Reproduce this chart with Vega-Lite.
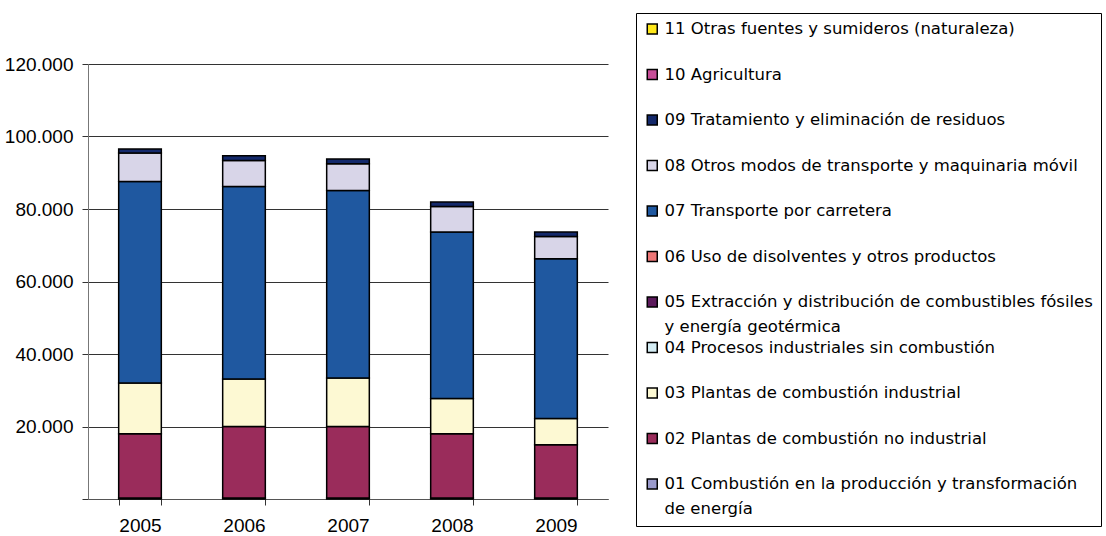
{
  "$schema": "https://vega.github.io/schema/vega-lite/v6.json",
  "width": 520,
  "height": 435,
  "autosize": {"type": "none"},
  "padding": {"left": 88, "top": 64, "right": 498, "bottom": 37},
  "background": "white",
  "config": {
    "font": "Liberation Sans",
    "view": {"stroke": null},
    "legend": {"strokeWidth": 1}
  },
  "data": {
    "values": [
      {"year": "2005", "code": 1, "cat": "01 Combustión en la producción y transformación de energía", "value": 300},
      {"year": "2006", "code": 1, "cat": "01 Combustión en la producción y transformación de energía", "value": 300},
      {"year": "2007", "code": 1, "cat": "01 Combustión en la producción y transformación de energía", "value": 300},
      {"year": "2008", "code": 1, "cat": "01 Combustión en la producción y transformación de energía", "value": 300},
      {"year": "2009", "code": 1, "cat": "01 Combustión en la producción y transformación de energía", "value": 300},
      {"year": "2005", "code": 2, "cat": "02 Plantas de combustión no industrial", "value": 17700},
      {"year": "2006", "code": 2, "cat": "02 Plantas de combustión no industrial", "value": 19700},
      {"year": "2007", "code": 2, "cat": "02 Plantas de combustión no industrial", "value": 19700},
      {"year": "2008", "code": 2, "cat": "02 Plantas de combustión no industrial", "value": 17700},
      {"year": "2009", "code": 2, "cat": "02 Plantas de combustión no industrial", "value": 14700},
      {"year": "2005", "code": 3, "cat": "03 Plantas de combustión industrial", "value": 14000},
      {"year": "2006", "code": 3, "cat": "03 Plantas de combustión industrial", "value": 13100},
      {"year": "2007", "code": 3, "cat": "03 Plantas de combustión industrial", "value": 13400},
      {"year": "2008", "code": 3, "cat": "03 Plantas de combustión industrial", "value": 9700},
      {"year": "2009", "code": 3, "cat": "03 Plantas de combustión industrial", "value": 7240},
      {"year": "2005", "code": 7, "cat": "07 Transporte por carretera", "value": 55600},
      {"year": "2006", "code": 7, "cat": "07 Transporte por carretera", "value": 53140},
      {"year": "2007", "code": 7, "cat": "07 Transporte por carretera", "value": 51730},
      {"year": "2008", "code": 7, "cat": "07 Transporte por carretera", "value": 45950},
      {"year": "2009", "code": 7, "cat": "07 Transporte por carretera", "value": 44050},
      {"year": "2005", "code": 8, "cat": "08 Otros modos de transporte y maquinaria móvil", "value": 7850},
      {"year": "2006", "code": 8, "cat": "08 Otros modos de transporte y maquinaria móvil", "value": 7160},
      {"year": "2007", "code": 8, "cat": "08 Otros modos de transporte y maquinaria móvil", "value": 7370},
      {"year": "2008", "code": 8, "cat": "08 Otros modos de transporte y maquinaria móvil", "value": 7050},
      {"year": "2009", "code": 8, "cat": "08 Otros modos de transporte y maquinaria móvil", "value": 6150},
      {"year": "2005", "code": 9, "cat": "09 Tratamiento y eliminación de residuos", "value": 1100},
      {"year": "2006", "code": 9, "cat": "09 Tratamiento y eliminación de residuos", "value": 1300},
      {"year": "2007", "code": 9, "cat": "09 Tratamiento y eliminación de residuos", "value": 1300},
      {"year": "2008", "code": 9, "cat": "09 Tratamiento y eliminación de residuos", "value": 1200},
      {"year": "2009", "code": 9, "cat": "09 Tratamiento y eliminación de residuos", "value": 1210}
    ]
  },
  "mark": {"type": "bar", "stroke": "#000000", "strokeWidth": 1.5},
  "encoding": {
    "x": {
      "field": "year",
      "type": "ordinal",
      "scale": {"paddingInner": 0.59, "paddingOuter": 0.295},
      "axis": {
        "title": null,
        "labelAngle": 0,
        "labelFontSize": 19,
        "labelColor": "#000000",
        "labelPadding": 11,
        "tickBand": "extent",
        "tickSize": 6,
        "tickColor": "#333333",
        "domainColor": "#555555",
        "grid": false
      }
    },
    "y": {
      "field": "value",
      "type": "quantitative",
      "stack": "zero",
      "scale": {"domain": [0, 120000], "nice": false},
      "axis": {
        "title": null,
        "values": [0, 20000, 40000, 60000, 80000, 100000, 120000],
        "labelExpr": "datum.value == 0 ? '' : replace(format(datum.value, ','), ',', '.')",
        "labelFontSize": 19,
        "labelColor": "#000000",
        "labelPadding": 9,
        "tickSize": 6,
        "tickColor": "#333333",
        "domainColor": "#777777",
        "grid": true,
        "gridColor": "#333333",
        "gridWidth": 1
      }
    },
    "order": {"field": "code", "type": "quantitative", "sort": "ascending"},
    "color": {
      "field": "cat",
      "type": "nominal",
      "scale": {
        "domain": [
          "11 Otras fuentes y sumideros (naturaleza)",
          "10 Agricultura",
          "09 Tratamiento y eliminación de residuos",
          "08 Otros modos de transporte y maquinaria móvil",
          "07 Transporte por carretera",
          "06 Uso de disolventes y otros productos",
          "05 Extracción y distribución de combustibles fósiles y energía geotérmica",
          "04 Procesos industriales sin combustión",
          "03 Plantas de combustión industrial",
          "02 Plantas de combustión no industrial",
          "01 Combustión en la producción y transformación de energía"
        ],
        "range": ["#FFE81A", "#C84D98", "#14296B", "#D8D5E8", "#1F58A0", "#EE7777", "#5C1A5C", "#D4EDF4", "#FDF9D3", "#9A2C5B", "#9A9ACC"]
      },
      "legend": {
        "title": null,
        "orient": "none",
        "legendX": 548,
        "legendY": -51,
        "direction": "vertical",
        "symbolType": "square",
        "symbolSize": 100,
        "symbolStrokeColor": "#000000",
        "symbolStrokeWidth": 1.5,
        "labelFont": "DejaVu Sans",
        "labelFontSize": 16.5,
        "labelColor": "#000000",
        "labelLimit": 600,
        "labelOffset": 4,
        "labelBaseline": "alphabetic",
        "labelExpr": "indexof(datum.label, '05') == 0 ? ['05 Extracción y distribución de combustibles fósiles', 'y energía geotérmica'] : indexof(datum.label, '01') == 0 ? ['01 Combustión en la producción y transformación', 'de energía'] : [datum.label, ' ']",
        "clipHeight": 16,
        "rowPadding": 3.5,
        "padding": 8,
        "strokeColor": "#000000",
        "encode": {
          "labels": {"update": {"lineHeight": {"value": 25}, "dy": {"value": 5}}}
        }
      }
    }
  }
}
